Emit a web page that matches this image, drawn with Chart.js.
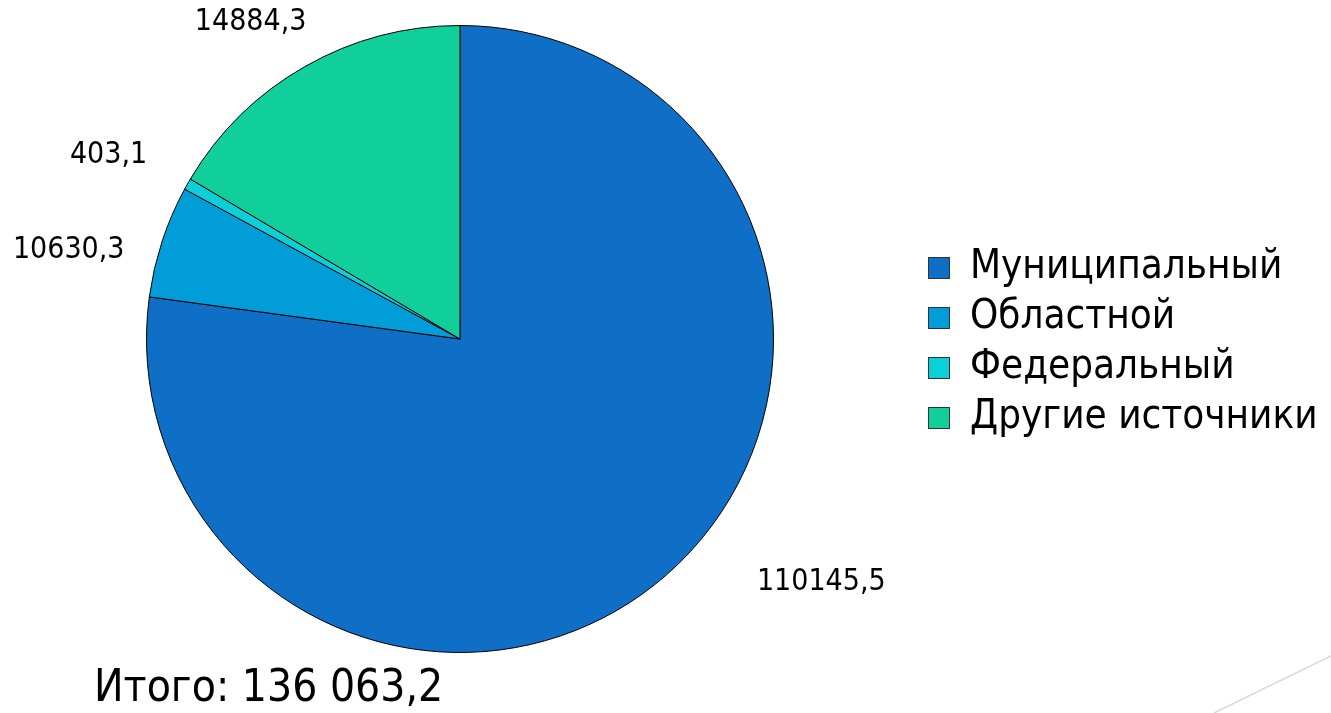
<!DOCTYPE html>
<html lang="ru">
<head>
<meta charset="utf-8">
<script src="https://cdn.jsdelivr.net/npm/chart.js@4/dist/chart.umd.min.js"></script>
<style>
  html, body { margin: 0; padding: 0; background: #fff; }
  #wrap { position: relative; width: 1331px; height: 713px; overflow: hidden; }
  #myChart { position: absolute; left: 0; top: 0; }
  #legend { position: absolute; left: 928px; top: 239px; font-family: "DejaVu Sans Condensed", "DejaVu Sans", sans-serif; font-size: 40px; color: #000; }
  .row { height: 50px; line-height: 50px; white-space: nowrap; }
  .box { display: inline-block; width: 20px; height: 20px; border: 1px solid #333; margin-right: 20px; vertical-align: -1px; }
  #total { position: absolute; left: 94px; top: 660px; font-family: "DejaVu Sans Condensed", "DejaVu Sans", sans-serif; font-size: 44px; color: #000; white-space: nowrap; }
</style>
</head>
<body>
<div id="wrap">
  <canvas id="myChart" width="1331" height="713"></canvas>
  <div id="legend"></div>
  <div id="total"></div>
</div>
<script>
'use strict';

// categories and the values printed on the chart, тыс. руб.
const categories = ['Муниципальный', 'Областной', 'Федеральный', 'Другие источники'];
const valueLabels = ['110145,5', '10630,3', '403,1', '14884,3'];
// slice shares as drawn in the picture, %
const sliceShares = [77.15, 5.79, 0.59, 16.48];
const totalText = 'Итого: 136 063,2';
const colors = ['#0f6fc6', '#009dd9', '#0bd0d9', '#10cf9b'];

// where each value label sits: angle from 12 o'clock (clockwise) and distance in radii
const labelSpots = [
  { angle: 124, dist: 1.39 },
  { angle: 282.8, dist: 1.28 },
  { angle: 297.6, dist: 1.265 },
  { angle: 326.5, dist: 1.21 }
];

// Value labels around the pie, placed from the arc geometry.
const outsideLabels = {
  id: 'outsideLabels',
  afterDatasetsDraw(chart) {
    const ctx = chart.ctx;
    const arcs = chart.getDatasetMeta(0).data;
    ctx.save();
    ctx.font = '30px "DejaVu Sans Condensed", "DejaVu Sans", sans-serif';
    ctx.fillStyle = '#000';
    ctx.textAlign = 'center';
    ctx.textBaseline = 'middle';
    arcs.forEach((arc, i) => {
      const spot = labelSpots[i];
      const a = (spot.angle - 90) * Math.PI / 180;
      const r = arc.outerRadius * spot.dist;
      ctx.fillText(valueLabels[i], arc.x + Math.cos(a) * r, arc.y + Math.sin(a) * r);
    });
    ctx.restore();
  }
};

// thin decorative line in the bottom-right corner
const cornerLine = {
  id: 'cornerLine',
  afterDraw(chart) {
    const ctx = chart.ctx;
    ctx.save();
    ctx.strokeStyle = '#d9d9d9';
    ctx.lineWidth = 1.5;
    ctx.beginPath();
    ctx.moveTo(1214, 713);
    ctx.lineTo(1331, 656);
    ctx.stroke();
    ctx.restore();
  }
};

const chart = new Chart(document.getElementById('myChart').getContext('2d'), {
  type: 'pie',
  data: {
    labels: categories,
    datasets: [{
      data: sliceShares,
      backgroundColor: colors,
      borderColor: '#000',
      borderWidth: 1,
      hoverOffset: 0
    }]
  },
  options: {
    responsive: false,
    animation: false,
    layout: { padding: { left: 146, top: 24, right: 557, bottom: 59 } },
    plugins: {
      legend: { display: false },
      tooltip: { enabled: false }
    }
  },
  plugins: [outsideLabels, cornerLine]
});

// legend and total as real text
const legend = document.getElementById('legend');
categories.forEach((name, i) => {
  const row = document.createElement('div');
  row.className = 'row';
  const box = document.createElement('span');
  box.className = 'box';
  box.style.background = colors[i];
  row.appendChild(box);
  row.appendChild(document.createTextNode(name));
  legend.appendChild(row);
});
document.getElementById('total').textContent = totalText;
</script>
</body>
</html>
